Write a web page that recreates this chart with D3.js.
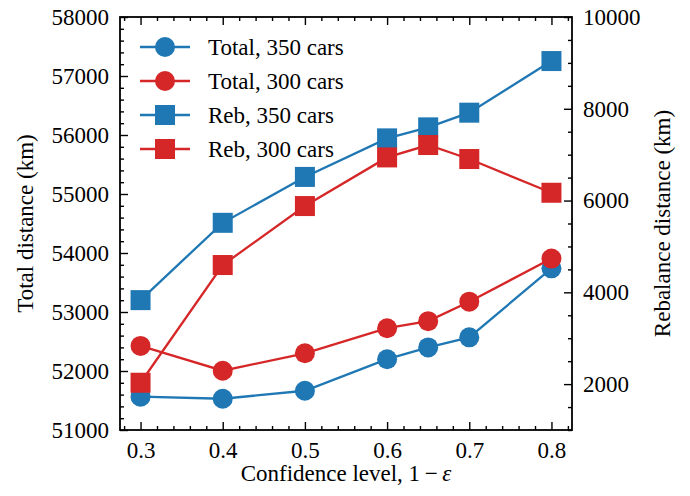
<!DOCTYPE html>
<html>
<head>
<meta charset="utf-8">
<script src="https://cdn.jsdelivr.net/npm/d3@7"></script>
<style>
  body { margin: 0; background: #fff; }
  text { font-family: "Liberation Serif", "Times New Roman", serif; }
</style>
</head>
<body>
<div id="my_dataviz"></div>
<script>
// data
var levels = [0.3, 0.4, 0.5, 0.6, 0.65, 0.7, 0.8];
var xTickLabels = ["0.3", "0.4", "0.5", "0.6", "0.7", "0.8"];
var total350 = [51565, 51530, 51665, 52200, 52400, 52570, 53740];
var total300 = [52425, 52005, 52300, 52725, 52845, 53175, 53905];
var reb350 = [3830, 5515, 6515, 7355, 7595, 7915, 9040];
var reb300 = [2030, 4595, 5880, 6940, 7210, 6905, 6170];
var leftTicks = [51000, 52000, 53000, 54000, 55000, 56000, 57000, 58000];
var rightTicks = [2000, 4000, 6000, 8000, 10000];

var series = [
  {name: "Total, 350 cars", values: total350, axis: "left", color: "#1f77b4", shape: "circle"},
  {name: "Total, 300 cars", values: total300, axis: "left", color: "#d62728", shape: "circle"},
  {name: "Reb, 350 cars", values: reb350, axis: "right", color: "#1f77b4", shape: "square"},
  {name: "Reb, 300 cars", values: reb300, axis: "right", color: "#d62728", shape: "square"}
];

var W = 690, H = 496;
var margin = {top: 17, right: 118, bottom: 66, left: 120},
    width = W - margin.left - margin.right,
    height = H - margin.top - margin.bottom;

var fs = 23;

var svg = d3.select("#my_dataviz")
  .append("svg")
  .attr("width", W)
  .attr("height", H);

var g = svg.append("g")
  .attr("transform", "translate(" + margin.left + "," + margin.top + ")");

var x = d3.scaleLinear().domain([0.275, 0.825]).range([0, width]);
var yL = d3.scaleLinear().domain([51000, 58000]).range([height, 0]);
var yR = d3.scaleLinear().domain([1000, 10000]).range([height, 0]);

var xMinor = d3.range(0.28, 0.825, 0.02).filter(function(v) {
  return Math.abs(Math.round(v * 10) - v * 10) > 1e-6;
});
var lMinor = d3.range(51000, 58001, 200).filter(function(v) { return v % 1000 !== 0; });
var rMinor = d3.range(1000, 10001, 500).filter(function(v) { return v % 2000 !== 0; });

function styleAxis(sel) {
  sel.select(".domain").remove();
  sel.selectAll("line").attr("stroke", "#000").attr("stroke-width", 1.4);
  sel.selectAll("text")
    .style("font-size", fs + "px")
    .attr("fill", "#000");
}

var xMajorVals = xTickLabels.map(Number);

// bottom axis
g.append("g").attr("transform", "translate(0," + height + ")")
  .call(d3.axisBottom(x).tickValues(xMinor).tickSize(-4).tickFormat(""))
  .call(styleAxis);
g.append("g").attr("transform", "translate(0," + height + ")")
  .call(d3.axisBottom(x).tickValues(xMajorVals).tickSize(-8).tickPadding(12)
    .tickFormat(function(d, i) { return xTickLabels[i]; }))
  .call(styleAxis);

// top axis (ticks only)
g.append("g")
  .call(d3.axisTop(x).tickValues(xMinor).tickSize(-4).tickFormat(""))
  .call(styleAxis);
g.append("g")
  .call(d3.axisTop(x).tickValues(xMajorVals).tickSize(-8).tickFormat(""))
  .call(styleAxis);

// left axis
g.append("g")
  .call(d3.axisLeft(yL).tickValues(lMinor).tickSize(-4).tickFormat(""))
  .call(styleAxis);
g.append("g")
  .call(d3.axisLeft(yL).tickValues(leftTicks).tickSize(-8).tickPadding(11).tickFormat(d3.format("d")))
  .call(styleAxis);

// right axis
g.append("g").attr("transform", "translate(" + width + ",0)")
  .call(d3.axisRight(yR).tickValues(rMinor).tickSize(-4).tickFormat(""))
  .call(styleAxis);
g.append("g").attr("transform", "translate(" + width + ",0)")
  .call(d3.axisRight(yR).tickValues(rightTicks).tickSize(-8).tickPadding(11).tickFormat(d3.format("d")))
  .call(styleAxis);

// frame
g.append("rect")
  .attr("width", width).attr("height", height)
  .attr("fill", "none").attr("stroke", "#000").attr("stroke-width", 1.8);

var R = 10, S = 20;

function drawMarker(sel, shape, color) {
  if (shape === "circle") {
    sel.append("circle").attr("r", R).attr("fill", color);
  } else {
    sel.append("rect").attr("x", -S / 2).attr("y", -S / 2)
      .attr("width", S).attr("height", S).attr("fill", color);
  }
}

series.forEach(function(s) {
  var yScale = s.axis === "left" ? yL : yR;
  var line = d3.line()
    .x(function(d, i) { return x(levels[i]); })
    .y(function(d) { return yScale(d); });

  g.append("path")
    .datum(s.values)
    .attr("d", line)
    .attr("fill", "none")
    .attr("stroke", s.color)
    .attr("stroke-width", 2.3);

  g.selectAll(null)
    .data(s.values)
    .enter().append("g")
    .attr("transform", function(d, i) {
      return "translate(" + x(levels[i]) + "," + yScale(d) + ")";
    })
    .each(function() { drawMarker(d3.select(this), s.shape, s.color); });
});

// legend
var legend = svg.selectAll(".legend")
  .data(series)
  .enter().append("g")
  .attr("class", "legend")
  .attr("transform", function(d, i) { return "translate(140," + (47 + i * 34) + ")"; });

legend.append("line")
  .attr("x1", 0).attr("x2", 50)
  .attr("stroke", function(d) { return d.color; })
  .attr("stroke-width", 2.3);

legend.append("g")
  .attr("transform", "translate(25,0)")
  .each(function(d) { drawMarker(d3.select(this), d.shape, d.color); });

legend.append("text")
  .attr("x", 68)
  .attr("dy", "0.33em")
  .style("font-size", fs + "px")
  .text(function(d) { return d.name; });

// axis labels
svg.append("text")
  .attr("transform", "translate(33," + (margin.top + height / 2) + ") rotate(-90)")
  .attr("text-anchor", "middle")
  .style("font-size", fs + "px")
  .text("Total distance (km)");

svg.append("text")
  .attr("transform", "translate(670," + (margin.top + height / 2) + ") rotate(-90)")
  .attr("text-anchor", "middle")
  .style("font-size", fs + "px")
  .text("Rebalance distance (km)");

var xl = svg.append("text")
  .attr("x", margin.left + width / 2)
  .attr("y", 481)
  .attr("text-anchor", "middle")
  .style("font-size", fs + "px");
xl.append("tspan").text("Confidence level, 1\u2009\u2212\u2009");
xl.append("tspan").style("font-style", "italic").text("\u03b5");
</script>
</body>
</html>
